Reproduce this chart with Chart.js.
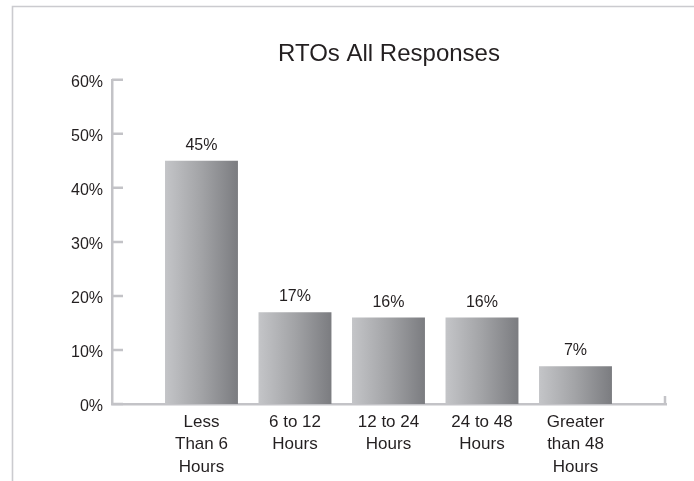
<!DOCTYPE html>
<html>
<head>
<meta charset="utf-8">
<title>RTOs All Responses</title>
<script src="https://cdn.jsdelivr.net/npm/chart.js@4/dist/chart.umd.min.js"></script>
<style>
  html, body { margin: 0; padding: 0; background: #ffffff; overflow: hidden; }
  #wrap { width: 694px; height: 481px; position: relative; }
</style>
</head>
<body>
<div id="wrap"><canvas id="chart" width="694" height="481"></canvas></div>
<script>
// Response-time buckets (one label line per array entry)
const categories = [
  ['Less', 'Than 6', 'Hours'],
  ['6 to 12', 'Hours'],
  ['12 to 24', 'Hours'],
  ['24 to 48', 'Hours'],
  ['Greater', 'than 48', 'Hours']
];
// Share of responses, percent
const responseShare = [45, 17, 16, 16, 7];
// Value axis ticks, percent
const yTicks = [0, 10, 20, 30, 40, 50, 60];

const FONT = "'Liberation Sans', Arial, Helvetica, sans-serif";
const TEXT = '#231f20';
const AXIS = '#c3c3c7';
const FRAME = '#cbcbcf';
const BAR_FRAC = 0.78;

// Light panel frame along the top and left edges
const framePlugin = {
  id: 'frame',
  beforeDraw(chart) {
    const c = chart.ctx;
    c.save();
    c.strokeStyle = FRAME;
    c.lineWidth = 1.6;
    c.beginPath();
    c.moveTo(12.5, chart.height);
    c.lineTo(12.5, 6.5);
    c.lineTo(chart.width, 6.5);
    c.stroke();
    c.restore();
  }
};

// Inward tick marks on the value axis and the end stop on the category axis
const axisMarks = {
  id: 'axisMarks',
  afterDatasetsDraw(chart) {
    const c = chart.ctx;
    const y = chart.scales.y;
    const area = chart.chartArea;
    c.save();
    c.strokeStyle = AXIS;
    c.lineWidth = 2.5;
    c.beginPath();
    yTicks.forEach(v => {
      const py = y.getPixelForValue(v);
      c.moveTo(area.left, py);
      c.lineTo(area.left + 11, py);
    });
    c.moveTo(area.right - 1, area.bottom);
    c.lineTo(area.right - 1, area.bottom - 8);
    c.stroke();
    c.restore();
  }
};

// Percentage printed above each bar
const valueLabels = {
  id: 'valueLabels',
  afterDatasetsDraw(chart) {
    const c = chart.ctx;
    const meta = chart.getDatasetMeta(0);
    c.save();
    c.font = '16px ' + FONT;
    c.fillStyle = TEXT;
    c.textAlign = 'center';
    c.textBaseline = 'alphabetic';
    meta.data.forEach((bar, i) => {
      c.fillText(responseShare[i] + '%', bar.x, bar.y - 11);
    });
    c.restore();
  }
};

function barFill(ctx) {
  const chart = ctx.chart;
  const xs = chart.scales && chart.scales.x;
  if (!chart.chartArea || !xs || ctx.dataIndex === undefined) return '#a0a1a4';
  const cx = xs.getPixelForValue(ctx.dataIndex);
  const step = xs.getPixelForValue(1) - xs.getPixelForValue(0);
  const half = step * BAR_FRAC / 2;
  const g = chart.ctx.createLinearGradient(cx - half, 0, cx + half, 0);
  g.addColorStop(0, '#c4c5c8');
  g.addColorStop(0.5, '#a2a3a6');
  g.addColorStop(1, '#7b7c80');
  return g;
}

new Chart(document.getElementById('chart'), {
  type: 'bar',
  data: {
    datasets: [{
      label: 'RTOs All Responses',
      data: responseShare.map((v, i) => ({ x: i, y: v })),
      backgroundColor: barFill,
      borderWidth: 0,
      categoryPercentage: 1,
      barPercentage: BAR_FRAC
    }]
  },
  options: {
    responsive: false,
    animation: false,
    events: [],
    layout: { padding: { left: 0, right: 28, top: 0, bottom: 0 } },
    plugins: {
      legend: { display: false },
      tooltip: { enabled: false },
      title: {
        display: true,
        text: 'RTOs All Responses',
        fullSize: false,
        color: TEXT,
        font: { family: FONT, size: 24, weight: 'normal', lineHeight: 1.2 },
        padding: { top: 40, bottom: 11 }
      }
    },
    scales: {
      x: {
        type: 'linear',
        min: -0.957,
        max: 4.968,
        offset: false,
        grid: { display: false, drawTicks: false },
        border: { display: true, color: AXIS, width: 2.5 },
        afterBuildTicks(scale) {
          scale.ticks = categories.map((_, i) => ({ value: i }));
        },
        afterFit(scale) { scale.height = 77; },
        ticks: {
          stepSize: 1,
          includeBounds: false,
          autoSkip: false,
          maxRotation: 0,
          minRotation: 0,
          padding: 7,
          color: TEXT,
          font: { family: FONT, size: 17, lineHeight: 1.32 },
          callback: (v) => categories[v]
        }
      },
      y: {
        min: 0,
        max: 60,
        grid: { display: false, drawTicks: false },
        border: { display: true, color: AXIS, width: 2.5 },
        afterFit(scale) { scale.width = 112; },
        afterBuildTicks(scale) {
          scale.ticks = yTicks.map(v => ({ value: v }));
        },
        ticks: {
          stepSize: 10,
          padding: 9,
          labelOffset: 3,
          color: TEXT,
          font: { family: FONT, size: 16 },
          callback: (v) => v + '%'
        }
      }
    }
  },
  plugins: [framePlugin, axisMarks, valueLabels]
});
</script>
</body>
</html>
